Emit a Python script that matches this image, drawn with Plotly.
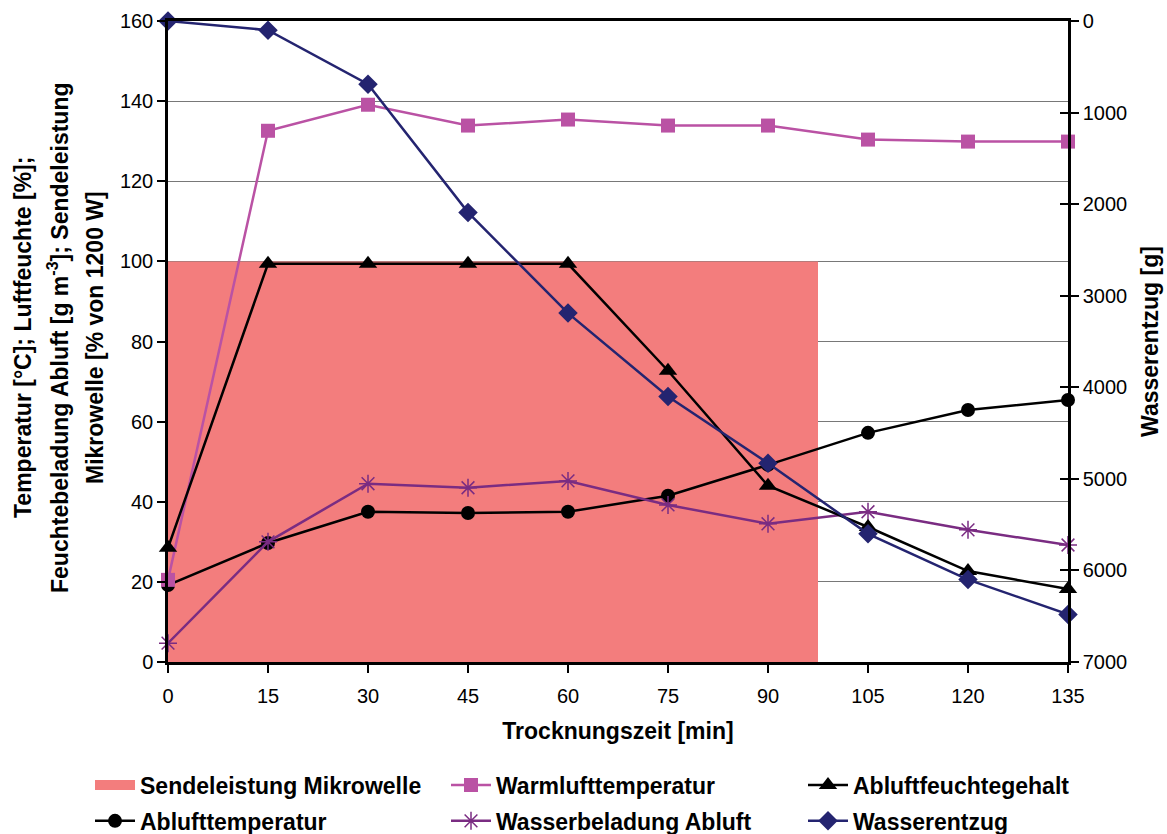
import plotly.graph_objects as go

# Trocknungszeit in Minuten
zeit = [0, 15, 30, 45, 60, 75, 90, 105, 120, 135]

# Messreihen (linke Achse)
warmluft_temp = [20.5, 132.6, 139.1, 133.9, 135.4, 133.9, 133.9, 130.4, 129.9, 129.9]
abluft_feuchte = [28.5, 99.4, 99.4, 99.4, 99.4, 72.7, 44.0, 33.7, 22.7, 18.2]
abluft_temp = [19.2, 29.7, 37.5, 37.2, 37.5, 41.5, 49.2, 57.2, 62.9, 65.4]
wasserbeladung = [4.7, 30.0, 44.5, 43.5, 45.2, 39.2, 34.5, 37.5, 33.0, 29.2]

# Wasserentzug in g (rechte Achse, umgekehrt)
wasserentzug = [0, 100, 690, 2090, 3190, 4100, 4830, 5600, 6100, 6480]

# Sendeleistung der Mikrowelle in % von 1200 W
mw_zeit = [0, 97.5]
mw_leistung = [100, 100]

x_ticks = [0, 15, 30, 45, 60, 75, 90, 105, 120, 135]
y_ticks = [0, 20, 40, 60, 80, 100, 120, 140, 160]
y2_ticks = [0, 1000, 2000, 3000, 4000, 5000, 6000, 7000]

FONT = "Liberation Sans, Arial, sans-serif"
W, H = 1167, 834
ML, MR, MT, MB = 168, 99, 21, 172
PW = W - ML - MR
PH = H - MT - MB

MW_RED = "rgb(243,125,125)"
PINK = "rgb(186,82,164)"
PURPLE = "rgb(122,44,130)"
NAVY = "rgb(36,36,112)"


def px_x(p):
    return (p - ML) / PW


def px_y(p):
    return (H - MB - p) / PH


fig = go.Figure()

fig.add_trace(go.Scatter(
    x=mw_zeit, y=mw_leistung, mode="lines", fill="tozeroy",
    fillcolor=MW_RED, line=dict(width=0, color=MW_RED),
    showlegend=False, hoverinfo="skip",
))
# legend key for the microwave power area (filled block)
fig.add_trace(go.Scatter(
    x=[None], y=[None], mode="lines", line=dict(width=15, color=MW_RED),
    name="<b>Sendeleistung Mikrowelle</b>", legend="legend", legendgroup="a",
))
fig.add_trace(go.Scatter(
    x=zeit, y=abluft_temp, mode="lines+markers", cliponaxis=False,
    line=dict(color="black", width=2.5),
    marker=dict(symbol="circle", size=14, color="black"),
    name="<b>Ablufttemperatur</b>", legend="legend", legendgroup="b",
))
fig.add_trace(go.Scatter(
    x=zeit, y=warmluft_temp, mode="lines+markers", cliponaxis=False,
    line=dict(color=PINK, width=2.5),
    marker=dict(symbol="square", size=14, color=PINK),
    name="<b>Warmlufttemperatur</b>", legend="legend2", legendgroup="c",
))
fig.add_trace(go.Scatter(
    x=zeit, y=wasserbeladung, mode="lines+markers", cliponaxis=False,
    line=dict(color=PURPLE, width=2.5),
    marker=dict(symbol="asterisk-open", size=15, color=PURPLE,
                line=dict(width=1.5, color=PURPLE)),
    name="<b>Wasserbeladung Abluft</b>", legend="legend2", legendgroup="d",
))
fig.add_trace(go.Scatter(
    x=zeit, y=abluft_feuchte, mode="lines+markers", cliponaxis=False,
    line=dict(color="black", width=2.5),
    marker=dict(symbol="triangle-up", size=16, color="black"),
    name="<b>Abluftfeuchtegehalt</b>", legend="legend3", legendgroup="e",
))
fig.add_trace(go.Scatter(
    x=zeit, y=wasserentzug, yaxis="y2", mode="lines+markers", cliponaxis=False,
    line=dict(color=NAVY, width=2.5),
    marker=dict(symbol="diamond", size=15, color=NAVY),
    name="<b>Wasserentzug</b>", legend="legend3", legendgroup="f",
))
# inner tick marks of the right axis
fig.add_trace(go.Scatter(
    x=[None], y=[None], yaxis="y3", showlegend=False, hoverinfo="skip",
))

tick_font = dict(family=FONT, size=20, color="black")
title_font = dict(family=FONT, size=23, color="black")

legend_common = dict(
    orientation="v", font=dict(family=FONT, size=23, color="black"),
    bgcolor="rgba(0,0,0,0)", itemwidth=40, tracegroupgap=3,
    yanchor="middle", xanchor="left", itemclick=False,
)

fig.update_layout(
    width=W, height=H,
    margin=dict(l=ML, r=MR, t=MT, b=MB, autoexpand=False),
    paper_bgcolor="white", plot_bgcolor="white",
    font=dict(family=FONT, color="black"),
    xaxis=dict(
        range=[0, 135], tickvals=x_ticks, ticktext=[str(v) for v in x_ticks],
        ticks="outside", ticklen=8, tickwidth=1.5, tickcolor="black",
        ticklabelstandoff=6,
        showline=True, linecolor="black", linewidth=2.5, mirror=True,
        showgrid=False, zeroline=False, tickfont=tick_font,
        title=dict(text="<b>Trocknungszeit [min]</b>", font=title_font, standoff=18),
    ),
    yaxis=dict(
        range=[0, 160], tickvals=y_ticks,
        ticks="outside", ticklen=8, tickwidth=1.5, tickcolor="black",
        showline=True, linecolor="black", linewidth=2.5,
        showgrid=True, gridcolor="rgb(120,120,120)", gridwidth=1.2,
        zeroline=False, tickfont=tick_font,
    ),
    yaxis2=dict(
        overlaying="y", side="right", range=[7000, 0], tickvals=y2_ticks,
        ticks="outside", ticklen=8, tickwidth=1.5, tickcolor="black",
        showline=True, linecolor="black", linewidth=2.5,
        showgrid=False, zeroline=False, tickfont=tick_font,
        title=dict(text="<b>Wasserentzug [g]</b>", font=title_font, standoff=16),
    ),
    yaxis3=dict(
        overlaying="y", side="right", range=[7000, 0], tickvals=y2_ticks,
        ticks="inside", ticklen=8, tickwidth=1.5, tickcolor="black",
        showticklabels=False, showline=False, showgrid=False, zeroline=False,
    ),
    legend=dict(legend_common, x=px_x(90), y=px_y(803)),
    legend2=dict(legend_common, x=px_x(446), y=px_y(803)),
    legend3=dict(legend_common, x=px_x(803), y=px_y(803)),
)

# mehrzeiliger Titel der linken Achse
left_title = [
    ("<b>Temperatur [°C]; Luftfeuchte [%];</b>", 23),
    ("<b>Feuchtebeladung Abluft [g m<sup>-3</sup>]; Sendeleistung</b>", 58),
    ("<b>Mikrowelle [% von 1200 W]</b>", 95),
]
for text, xpx in left_title:
    fig.add_annotation(
        text=text, textangle=-90, xref="paper", yref="paper",
        x=px_x(xpx), y=px_y(338), xanchor="center", yanchor="middle",
        showarrow=False, font=title_font,
    )

fig.write_html("out.html")
